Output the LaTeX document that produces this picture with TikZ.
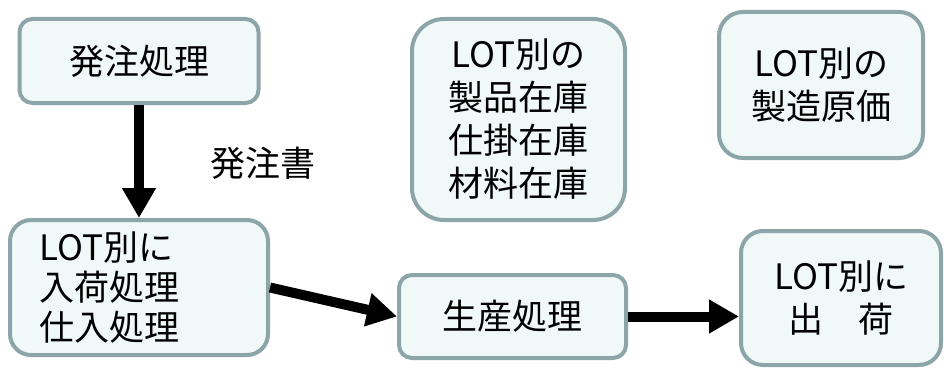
\documentclass[tikz,border=0pt]{standalone}
\usepackage{fontspec}
\setmainfont{Noto Sans CJK JP}
\usepackage{tikz}
\usetikzlibrary{arrows.meta}
\definecolor{boxline}{HTML}{8CA5A8}
\definecolor{boxfill}{HTML}{F0F8F8}

\begin{document}
\begin{tikzpicture}[x=1pt,y=-1pt,-{Triangle[width=32pt,length=30pt]},line width=10pt]
  \tikzstyle{proc}=[draw=boxline,fill=boxfill,line width=4pt,align=center,
    font=\fontsize{35}{43}\selectfont]
  \useasboundingbox (0,0) rectangle (947,369);

  % left column
  \node[proc,minimum width=239pt,minimum height=84pt,rounded corners=13pt] (order) at (139,61) {発注処理};
  \node[proc,minimum width=258pt,minimum height=135pt,rounded corners=21pt,
    text width=200pt,align=left,font=\fontsize{35}{40}\selectfont] (nyuka) at (139,287.5)
    {LOT別に\\入荷処理\\仕入処理};

  % upper boxes
  \node[proc,minimum width=213pt,minimum height=201pt,rounded corners=32pt] (zaiko) at (518.5,119.5)
    {LOT別の\\製品在庫\\仕掛在庫\\材料在庫};
  \node[proc,minimum width=204pt,minimum height=146pt,rounded corners=24pt] (genka) at (821,85)
    {LOT別の\\製造原価};

  % lower boxes
  \node[proc,minimum width=227pt,minimum height=83pt,rounded corners=13pt] (seisan) at (512.5,316.5) {生産処理};
  \node[proc,minimum width=200pt,minimum height=134pt,rounded corners=22pt] (shukka) at (841,298)
    {LOT別に\\出　荷};

  \draw (order.south) -- (nyuka.north);
  \node[font=\fontsize{35}{43}\selectfont] (doc) at (263,163) {発注書};

  \draw (nyuka.east) -- (seisan.west);
  \draw (seisan.east) -- (seisan.east -| shukka.west);
\end{tikzpicture}
\end{document}
